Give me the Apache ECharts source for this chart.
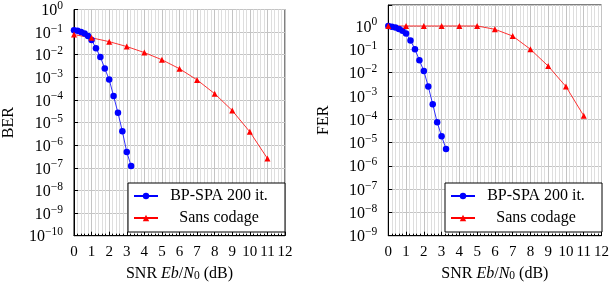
<!DOCTYPE html>
<html>
<head>
<meta charset="UTF-8">
<title>BER / FER</title>
<script src="https://cdn.jsdelivr.net/npm/echarts@6/dist/echarts.min.js"></script>
<style>
  html, body { margin: 0; padding: 0; background: #fff; }
  #main { width: 612px; height: 288px; }
</style>
</head>
<body>
<div id="main"></div>
<script>
// SNR points (dB)
var snrCoded = [0, 0.2, 0.4, 0.6, 0.8, 1, 1.25, 1.5, 1.75, 2, 2.25, 2.5, 2.75, 3, 3.25];
var snrUncoded = [0, 1, 2, 3, 4, 5, 6, 7, 8, 9, 10, 11];

// BP-SPA 200 it.
var berCoded = [0.122, 0.114, 0.1, 0.087, 0.067, 0.045, 0.0195, 0.0079, 0.00245, 8.1e-4, 1.5e-4, 2.7e-5, 4.1e-6, 5e-7, 1.2e-7];
var ferCoded = [1.0, 0.93, 0.85, 0.74, 0.63, 0.47, 0.24, 0.10, 0.034, 0.0117, 0.0025, 4.4e-4, 7.4e-5, 1.85e-5, 5.3e-6];

// Sans codage
var berUncoded = [0.078, 0.056, 0.038, 0.023, 0.0125, 0.006, 0.0024, 7.7e-4, 1.9e-4, 3.4e-5, 3.9e-6, 2.6e-7];
var ferUncoded = [1, 1, 1, 1, 1, 1, 0.72, 0.37, 0.1, 0.019, 0.0025, 1.4e-4];

var xTicks = [0, 1, 2, 3, 4, 5, 6, 7, 8, 9, 10, 11, 12];

var names = ['BP-SPA 200 it.', 'Sans codage'];

var FONT = 'Liberation Serif';

function pairs(xs, ys) {
  return xs.map(function (x, i) { return [x, ys[i]]; });
}

// 10^n labels, only on exact decades
function powLabel(v) {
  var e = Math.log10(v);
  var n = Math.round(e);
  if (Math.abs(e - n) > 1e-6) return '';
  return '{b|10}{s|' + (n < 0 ? '\u2212' + (-n) : n) + '}';
}

var powRich = {
  b: { fontFamily: FONT, fontSize: 16, color: '#000', lineHeight: 19, verticalAlign: 'bottom' },
  s: { fontFamily: FONT, fontSize: 11.5, color: '#000', lineHeight: 12, verticalAlign: 'top' }
};

function xAxisOf(idx) {
  return {
    type: 'value', gridIndex: idx, min: 0, max: 12, interval: 1,
    name: '{r|SNR }{i|Eb}{r|/}{i|N}{sub|0}{r| (dB)}',
    nameLocation: 'middle', nameGap: 30,
    nameTextStyle: {
      rich: {
        r: { fontFamily: FONT, fontSize: 16, color: '#000', lineHeight: 16, verticalAlign: 'bottom' },
        i: { fontFamily: FONT, fontSize: 16, color: '#000', fontStyle: 'italic', lineHeight: 16, verticalAlign: 'bottom' },
        sub: { fontFamily: FONT, fontSize: 11.5, color: '#000', lineHeight: 10, verticalAlign: 'bottom' }
      }
    },
    axisLine: { show: true, lineStyle: { color: '#000', width: 1 } },
    axisTick: { show: true, inside: true, length: 4, lineStyle: { color: '#000' } },
    minorTick: { show: true, splitNumber: 5, length: 2, lineStyle: { color: '#000' } },
    axisLabel: {
      margin: 9, fontFamily: FONT, fontSize: 15, color: '#000',
      formatter: function (v) { return xTicks.indexOf(v) >= 0 ? String(v) : ''; }
    },
    splitLine: { show: true, lineStyle: { color: '#c4c4c4', width: 1 } },
    minorSplitLine: { show: true, lineStyle: { color: '#dedede', width: 1 } }
  };
}

function yAxisOf(idx, name, min, max) {
  return {
    type: 'log', logBase: 10, gridIndex: idx, min: min, max: max, interval: 1,
    name: name, nameLocation: 'middle', nameGap: 57,
    nameTextStyle: { fontFamily: FONT, fontSize: 16, color: '#000' },
    axisLine: { show: true, lineStyle: { color: '#000', width: 1 } },
    axisTick: { show: true, inside: true, length: 4, lineStyle: { color: '#000' } },
    axisLabel: { margin: 11, formatter: powLabel, rich: powRich, showMaxLabel: true },
    splitLine: { show: true, lineStyle: { color: '#c4c4c4', width: 1 } }
  };
}

function legendOf(left) {
  return {
    data: names, orient: 'vertical', left: left, top: 183,
    padding: [5, 10, 6, 5], itemWidth: 24, itemHeight: 8, itemGap: 6,
    borderColor: '#000', borderWidth: 1, backgroundColor: '#fff',
    formatter: function (n) { return '{c|' + n + '}'; },
    textStyle: {
      rich: { c: { width: 112, lineHeight: 14, align: 'center', fontFamily: FONT, fontSize: 16, color: '#000' } }
    }
  };
}

function lineSeries(name, idx, data, color, symbol, size) {
  return {
    name: name, type: 'line', xAxisIndex: idx, yAxisIndex: idx, data: data,
    symbol: symbol, symbolSize: size, showSymbol: true,
    lineStyle: { color: color, width: 0.8 },
    itemStyle: { color: color },
    animation: false
  };
}

var chart = echarts.init(document.getElementById('main'));
chart.setOption({
  animation: false,
  backgroundColor: '#fff',
  grid: [
    { left: 71.5, right: 327, top: 5, bottom: 52.3, show: true, borderColor: '#000', borderWidth: 1, containLabel: false },
    { left: 388.3, right: 9.7, top: 5, bottom: 52.3, show: true, borderColor: '#000', borderWidth: 1, containLabel: false }
  ],
  legend: [legendOf(128), legendOf(445)],
  xAxis: [xAxisOf(0), xAxisOf(1)],
  yAxis: [yAxisOf(0, 'BER', 1e-10, 1), yAxisOf(1, 'FER', 1e-9, 7.94)],
  series: [
    lineSeries(names[0], 0, pairs(snrCoded, berCoded), '#0000ff', 'circle', 6.5),
    lineSeries(names[1], 0, pairs(snrUncoded, berUncoded), '#ff0000', 'triangle', 6),
    lineSeries(names[0], 1, pairs(snrCoded, ferCoded), '#0000ff', 'circle', 6.5),
    lineSeries(names[1], 1, pairs(snrUncoded, ferUncoded), '#ff0000', 'triangle', 6)
  ]
});
</script>
</body>
</html>
